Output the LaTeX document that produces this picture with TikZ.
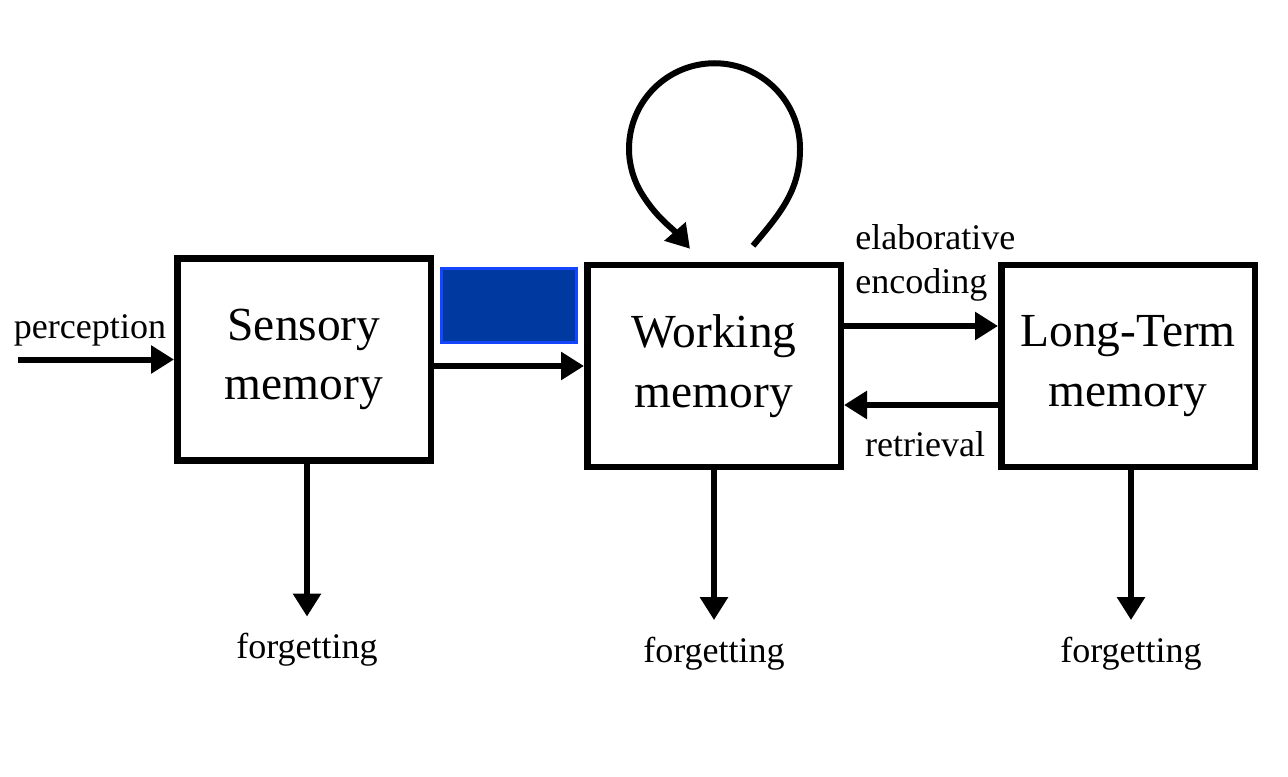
\documentclass[tikz,border=0pt]{standalone}
\usepackage{fontspec}
\setmainfont{Liberation Serif}
\usetikzlibrary{arrows.meta,positioning}
\definecolor{coverfill}{RGB}{0,58,160}
\definecolor{coveredge}{RGB}{20,70,255}
\tikzset{
memorybox/.style={rectangle, draw=black, line width=0.13cm, minimum width=5.07cm, minimum height=4.04cm, align=center, font=\fontsize{27}{34}\selectfont},
flowarrow/.style={line width=0.12cm, -{Triangle[length=0.46cm,width=0.54cm]}},
smalltext/.style={font=\fontsize{20.5}{25}\selectfont, inner sep=0pt},
}

\begin{document}
\begin{tikzpicture}
\useasboundingbox (0,0) rectangle (25.76,15.52);
% memory stores
\node[memorybox] (sensory) at (6.08,8.33) {Sensory\\memory};
\node[memorybox] (working) at (14.28,8.2) {Working\\memory};
\node[memorybox] (longterm) at (22.56,8.2) {Long-Term\\memory};
% blue block between the first two boxes
\node[rectangle, fill=coverfill, draw=coveredge, line width=0.06cm, minimum width=2.7cm, minimum height=1.48cm] (cover) at (10.18,9.41) {};

% labels
\node[smalltext] (perception) at (1.8,8.92) {perception};
\coordinate (perceptionstart) at (0.36,8.33);
\node[smalltext, align=left, anchor=west] (encoding) at (17.1,10.26) {elaborative\\encoding};
\node[smalltext] (retrieval) at (18.5,6.64) {retrieval};
\node[smalltext] (forgetS) at (6.14,2.52) {forgetting};
\node[smalltext] (forgetW) at (14.28,2.45) {forgetting};
\node[smalltext] (forgetL) at (22.62,2.45) {forgetting};

% arrows
\draw[flowarrow] (perceptionstart) -- (sensory.west);
\draw[flowarrow] (sensory.east |- working.west) -- (working.west);
\draw[flowarrow] ([yshift=0.8cm]working.east) -- ([yshift=0.8cm]longterm.west);
\draw[flowarrow] ([yshift=-0.78cm]longterm.west) -- ([yshift=-0.78cm]working.east);
\draw[flowarrow] (sensory.south -| forgetS) -- ([yshift=0.33cm]forgetS.north);
\draw[flowarrow] (working.south -| forgetW) -- ([yshift=0.33cm]forgetW.north);
\draw[flowarrow] (longterm.south -| forgetL) -- ([yshift=0.33cm]forgetL.north);

% rehearsal loop
\coordinate (loopstart) at ([xshift=0.78cm,yshift=0.32cm]working.north);
\coordinate (loopend) at ([xshift=-0.48cm,yshift=0.26cm]working.north);
\draw[flowarrow] (loopstart) to[out=50,in=-90] ([xshift=1.72cm,yshift=2.26cm]working.north) arc[start angle=0,end angle=212,radius=1.71cm] to[out=-58,in=131] (loopend);
\end{tikzpicture}
\end{document}
